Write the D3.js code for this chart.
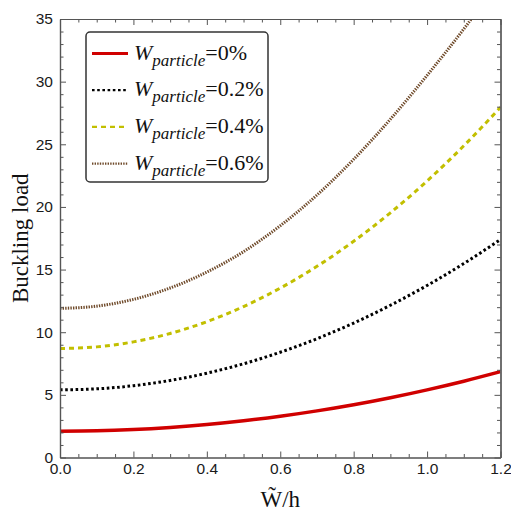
<!DOCTYPE html>
<html>
<head>
<meta charset="utf-8">
<script src="https://cdn.jsdelivr.net/npm/d3@7"></script>
<style>
  body { margin: 0; background: #fff; }
  svg { display: block; }
</style>
</head>
<body>
<div id="plot"></div>
<script>
const width = 511
const height = 514
const margin = {top: 19, right: 10.5, bottom: 56.5, left: 60}

// values
const ratios = [0, 0.1, 0.2, 0.3, 0.4, 0.5, 0.6, 0.7, 0.8, 0.9, 1.0, 1.1, 1.2]
const load0 = [2.10, 2.13, 2.23, 2.40, 2.63, 2.93, 3.29, 3.72, 4.21, 4.77, 5.40, 6.09, 6.85]
const load02 = [5.40, 5.48, 5.73, 6.15, 6.73, 7.48, 8.40, 9.48, 10.73, 12.15, 13.73, 15.48, 17.40]
const load04 = [8.70, 8.83, 9.23, 9.90, 10.84, 12.05, 13.52, 15.26, 17.26, 19.53, 22.07, 24.88, 27.95]
const load06 = [11.90, 12.08, 12.62, 13.53, 14.80, 16.43, 18.50, 20.95, 23.80, 27.00, 30.50, 34.20, 38.20]
const seriesNames = ['0%', '0.2%', '0.4%', '0.6%']
const xTicks = [0, 0.2, 0.4, 0.6, 0.8, 1.0, 1.2]
const yTicks = [0, 5, 10, 15, 20, 25, 30, 35]

const series = [
    {name: seriesNames[0], values: load0, color: '#d00000', width: 3.5, dash: null},
    {name: seriesNames[1], values: load02, color: '#000000', width: 3, dash: '2.6,2.6'},
    {name: seriesNames[2], values: load04, color: '#c2bf00', width: 3, dash: '5,4'},
    {name: seriesNames[3], values: load06, color: '#6f4a2a', width: 3, dash: '1.4,1.2'}
]

const svg = d3.select('div#plot').append('svg')
    .attr('width', width)
    .attr('height', height)
    .attr('viewBox', [0, 0, width, height])

const x = d3.scaleLinear().domain([0, 1.2]).range([margin.left, width - margin.right])
const y = d3.scaleLinear().domain([0, 35]).range([height - margin.bottom, margin.top])

const axisColor = '#555'
const labelFont = '"Liberation Sans", Arial, sans-serif'
const serif = '"Liberation Serif", "Times New Roman", serif'

// clip for curves
svg.append('clipPath').attr('id', 'clip')
    .append('rect')
    .attr('x', x(0)).attr('y', y(35))
    .attr('width', x(1.2) - x(0)).attr('height', y(0) - y(35))

// curves
const line = d3.line()
    .x((d, i) => x(ratios[i]))
    .y(d => y(d))
    .curve(d3.curveMonotoneX)

const curves = svg.append('g').attr('clip-path', 'url(#clip)')
series.forEach(s => {
    curves.append('path')
        .datum(s.values)
        .attr('d', line)
        .attr('fill', 'none')
        .attr('stroke', s.color)
        .attr('stroke-width', s.width)
        .attr('stroke-dasharray', s.dash)
})

// frame axes with ticks on all sides
const xMinor = d3.range(0, 1.2001, 0.05).filter(v => Math.abs(v / 0.2 - Math.round(v / 0.2)) > 1e-6)
const yMinor = d3.range(0, 35.001, 1).filter(v => v % 5 !== 0)

function styleAxis(g) {
    g.select('.domain').attr('stroke', axisColor).attr('stroke-width', 1.2)
    g.selectAll('.tick line').attr('stroke', axisColor)
    g.selectAll('.tick text')
        .attr('fill', '#1a1a1a')
        .attr('font-family', labelFont)
        .attr('font-size', 15.5)
}

// bottom
svg.append('g')
    .attr('transform', `translate(0,${y(0)})`)
    .call(d3.axisBottom(x).tickValues(xTicks).tickFormat(d3.format('.1f')).tickSizeInner(-6).tickSizeOuter(0).tickPadding(10))
    .call(styleAxis)
    .call(g => g.selectAll('.tick text').attr('dy', '0.45em'))
svg.append('g')
    .attr('transform', `translate(0,${y(0)})`)
    .call(d3.axisBottom(x).tickValues(xMinor).tickFormat('').tickSizeInner(-3.5).tickSizeOuter(0))
    .call(styleAxis)
// top
svg.append('g')
    .attr('transform', `translate(0,${y(35)})`)
    .call(d3.axisTop(x).tickValues(xTicks).tickFormat('').tickSizeInner(-6).tickSizeOuter(0))
    .call(styleAxis)
svg.append('g')
    .attr('transform', `translate(0,${y(35)})`)
    .call(d3.axisTop(x).tickValues(xMinor).tickFormat('').tickSizeInner(-3.5).tickSizeOuter(0))
    .call(styleAxis)
// left
svg.append('g')
    .attr('transform', `translate(${x(0)},0)`)
    .call(d3.axisLeft(y).tickValues(yTicks).tickSizeInner(-6).tickSizeOuter(0).tickPadding(7))
    .call(styleAxis)
svg.append('g')
    .attr('transform', `translate(${x(0)},0)`)
    .call(d3.axisLeft(y).tickValues(yMinor).tickFormat('').tickSizeInner(-3.5).tickSizeOuter(0))
    .call(styleAxis)
// right
svg.append('g')
    .attr('transform', `translate(${x(1.2)},0)`)
    .call(d3.axisRight(y).tickValues(yTicks).tickFormat('').tickSizeInner(-6).tickSizeOuter(0))
    .call(styleAxis)
svg.append('g')
    .attr('transform', `translate(${x(1.2)},0)`)
    .call(d3.axisRight(y).tickValues(yMinor).tickFormat('').tickSizeInner(-3.5).tickSizeOuter(0))
    .call(styleAxis)

// axis titles
svg.append('text')
    .attr('transform', `translate(28,${(y(0) + y(35)) / 2}) rotate(-90)`)
    .attr('text-anchor', 'middle')
    .attr('font-family', serif)
    .attr('font-size', 23)
    .attr('fill', '#111')
    .text('Buckling load')

svg.append('text')
    .attr('x', (x(0) + x(1.2)) / 2)
    .attr('y', 507)
    .attr('text-anchor', 'middle')
    .attr('font-family', serif)
    .attr('font-size', 23)
    .attr('fill', '#111')
    .text('W\u0303/h')

// legend
const legend = svg.append('g')
legend.append('rect')
    .attr('x', 86).attr('y', 32)
    .attr('width', 182).attr('height', 150)
    .attr('rx', 4)
    .attr('fill', '#fff')
    .attr('stroke', '#333')
    .attr('stroke-width', 1.5)

series.forEach((s, i) => {
    const ly = 53.5 + i * 36.7
    legend.append('line')
        .attr('x1', 92).attr('x2', 128)
        .attr('y1', ly).attr('y2', ly)
        .attr('stroke', s.color)
        .attr('stroke-width', s.width - 0.7)
        .attr('stroke-dasharray', s.dash)
    const t = legend.append('text')
        .attr('x', 134).attr('y', ly + 6)
        .attr('font-family', serif)
        .attr('font-size', 22)
        .attr('fill', '#111')
    t.append('tspan').attr('font-style', 'italic').text('W')
    t.append('tspan').attr('font-style', 'italic').attr('font-size', 17).attr('dy', 6).text('particle')
    t.append('tspan').attr('dy', -6).text('=' + s.name)
})
</script>
</body>
</html>
